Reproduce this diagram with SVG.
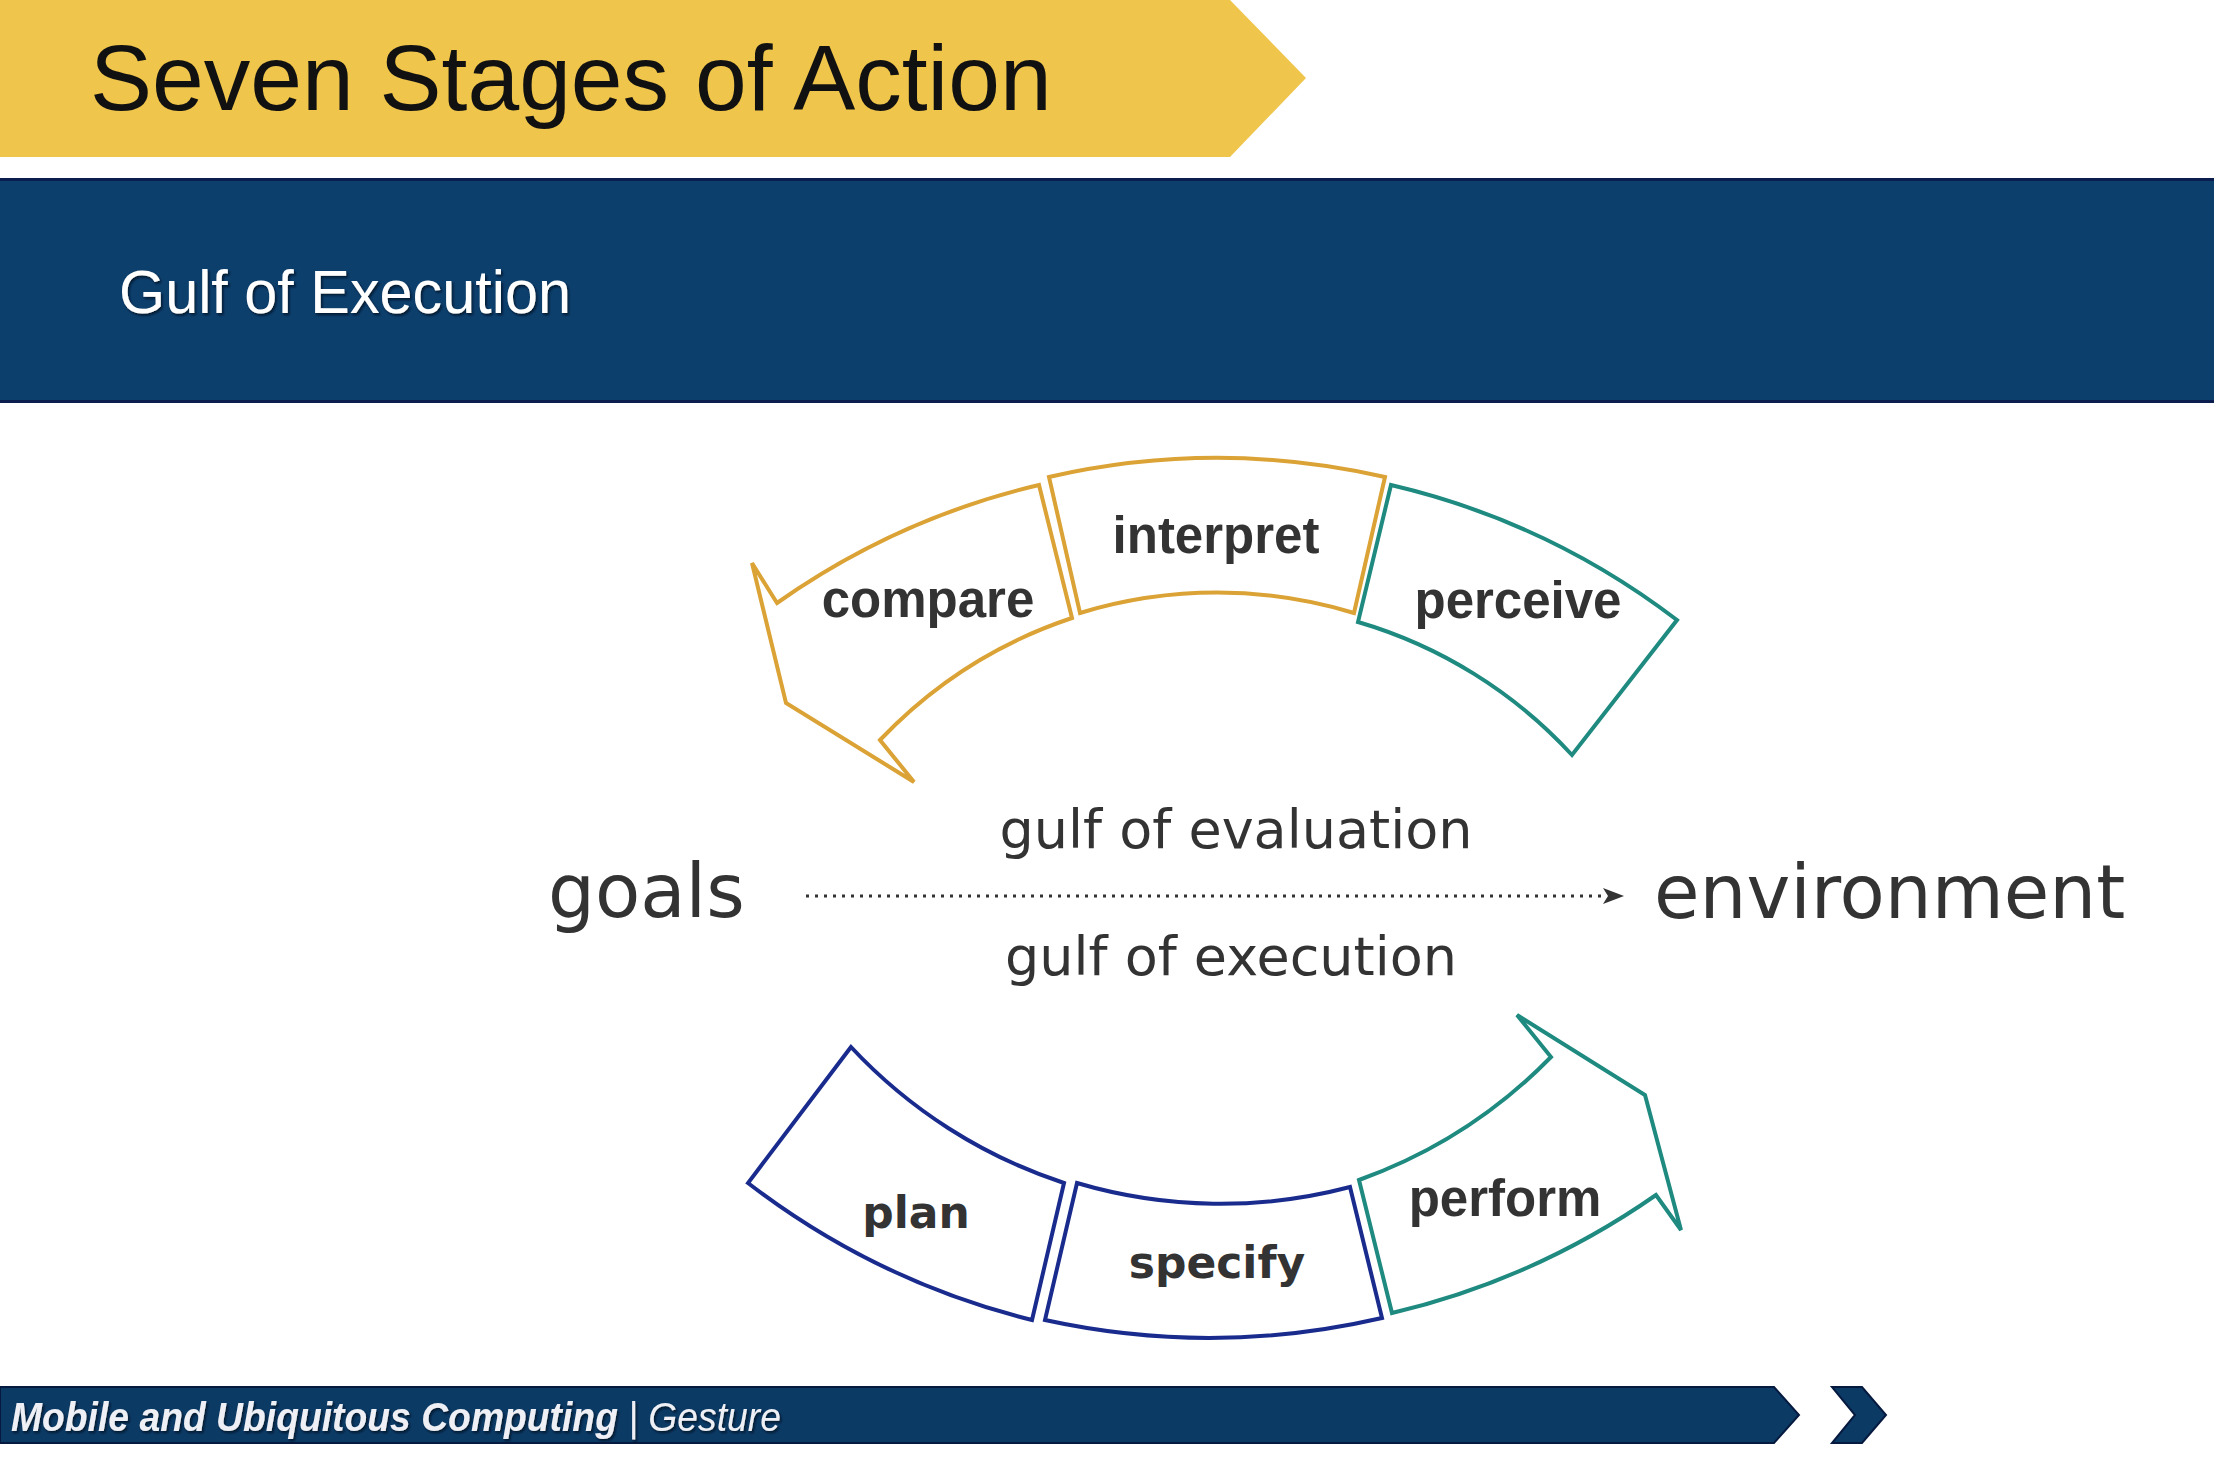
<svg xmlns="http://www.w3.org/2000/svg" width="2214" height="1458" viewBox="0 0 2214 1458">
  <defs>
    <style>
      .stage { fill: #ffffff; stroke-width: 4; stroke-linejoin: miter; }
      .gold { stroke: #DBA235; }
      .teal { stroke: #1F8A80; }
      .navy { stroke: #1A2B8E; }
      .lbl { font-family: "Liberation Sans", Arial, sans-serif; font-weight: bold; font-size: 51px; fill: #333333; text-anchor: middle; }
      .lbl2 { font-family: "DejaVu Sans", sans-serif; font-weight: bold; font-size: 44px; fill: #333333; text-anchor: middle; }
      .big { font-family: "DejaVu Sans", sans-serif; font-size: 74px; fill: #333333; }
      .gulf { font-family: "DejaVu Sans", sans-serif; font-size: 54px; fill: #333333; text-anchor: middle; }
      .foot { font-family: "Liberation Sans", Arial, sans-serif; font-style: italic; font-size: 41px; fill: #eef0f6; }
    </style>
    <filter id="shadow" x="-1%" y="-20%" width="103%" height="145%">
      <feDropShadow dx="1.5" dy="2" stdDeviation="1" flood-color="#000820" flood-opacity="0.8"/>
    </filter>
  </defs>

  <rect width="2214" height="1458" fill="#ffffff"/>

  <!-- title banner -->
  <g id="title">
    <path d="M0,0 L1230,0 L1306,78 L1230,157 L0,157 Z" fill="#EFC54B"/>
    <text x="90" y="110" font-family="'Liberation Sans', Arial, sans-serif" font-size="93" fill="#111111">Seven Stages of Action</text>
  </g>

  <!-- subtitle band -->
  <g id="subtitle">
    <rect x="0" y="179" width="2214" height="223" fill="#0C3F6C"/>
    <rect x="0" y="178" width="2214" height="3" fill="#0A1D4E"/>
    <rect x="0" y="400" width="2214" height="3" fill="#0A1D4E"/>
    <text x="119" y="313" font-family="'Liberation Sans', Arial, sans-serif" font-size="61" fill="#ffffff" textLength="452" lengthAdjust="spacingAndGlyphs" filter="url(#shadow)">Gulf of Execution</text>
  </g>

  <!-- evaluation arc: perceive -> interpret -> compare -->
  <g id="compare">
    <path class="stage gold" d="M1039,485 A755,755 0 0 0 777,603 L752,563 L786,703 L914,782 L880,740 A470,470 0 0 1 1072,618 Z"/>
    <text class="lbl" x="928" y="617">compare</text>
  </g>
  <g id="interpret">
    <path class="stage gold" d="M1049,477 A755,755 0 0 1 1385,477 L1354,613 A470,470 0 0 0 1080,613 Z"/>
    <text class="lbl" x="1216" y="553">interpret</text>
  </g>
  <g id="perceive">
    <path class="stage teal" d="M1391,485 A755,755 0 0 1 1677,620 L1572,755 A470,470 0 0 0 1358,622 Z"/>
    <text class="lbl" x="1518" y="618">perceive</text>
  </g>

  <!-- execution arc: plan -> specify -> perform -->
  <g id="plan">
    <path class="stage navy" d="M851,1047 L748,1183 A770,770 0 0 0 1032,1320 L1064,1183 A507,507 0 0 1 851,1047 Z"/>
    <text class="lbl2" x="916" y="1228">plan</text>
  </g>
  <g id="specify">
    <path class="stage navy" d="M1077,1183 A507,507 0 0 0 1350,1187 L1382,1318 A770,770 0 0 1 1045,1320 Z"/>
    <text class="lbl2" x="1217" y="1278">specify</text>
  </g>
  <g id="perform">
    <path class="stage teal" d="M1359,1180 A507,507 0 0 0 1551,1057 L1517,1015 L1645,1095 L1681,1230 L1656,1195 A770,770 0 0 1 1392,1313 Z"/>
    <text class="lbl" x="1505" y="1216">perform</text>
  </g>

  <!-- endpoints -->
  <g id="goals">
    <text class="big" x="548" y="917">goals</text>
  </g>
  <g id="environment">
    <text class="big" x="1654" y="918">environment</text>
  </g>

  <!-- connector: goals to environment -->
  <g id="connectors">
    <line x1="806" y1="896" x2="1604" y2="896" stroke="#333333" stroke-width="3" stroke-dasharray="3 6"/>
    <path d="M1603,888 L1624,896 L1603,904 L1608,896 Z" fill="#333333"/>
    <text class="gulf" x="1236" y="848">gulf of evaluation</text>
    <text class="gulf" x="1231" y="975">gulf of execution</text>
  </g>

  <!-- footer -->
  <g id="footer">
    <path d="M0,1387 L1774,1387 L1799,1415 L1774,1443 L0,1443 Z" fill="#0B3A64" stroke="#061A40" stroke-width="2"/>
    <path d="M1832,1387 L1862,1387 L1886,1415 L1862,1443 L1832,1443 L1855,1415 Z" fill="#0B3A64" stroke="#061A40" stroke-width="2"/>
    <text class="foot" x="11" y="1431" textLength="770" lengthAdjust="spacingAndGlyphs" filter="url(#shadow)"><tspan font-weight="bold">Mobile and Ubiquitous Computing</tspan> | Gesture</text>
  </g>
</svg>
